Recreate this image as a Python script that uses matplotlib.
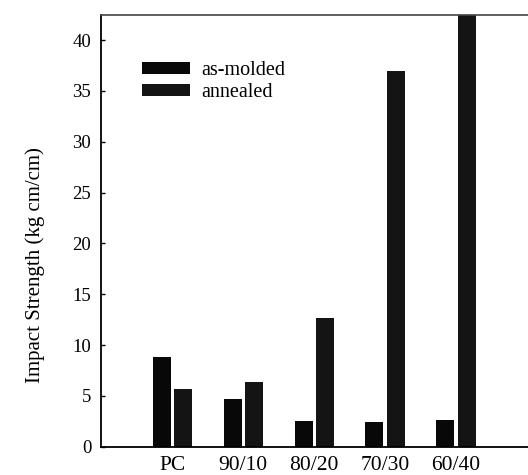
import matplotlib
matplotlib.use('Agg')
import matplotlib.pyplot as plt
import numpy as np

# data
blends = ['PC', '90/10', '80/20', '70/30', '60/40']
as_molded = [8.85, 4.7, 2.5, 2.45, 2.6]
annealed = [5.65, 6.4, 12.65, 37.0, 43.0]

plt.rcParams['font.family'] = ['Liberation Serif', 'DejaVu Serif']

fig = plt.figure(figsize=(5.28, 4.75), dpi=100)
ax = fig.add_axes([101 / 528, 28.3 / 475, 427 / 528, 432 / 475])

x = np.arange(len(blends))
w = 0.254
ax.bar(x - 0.151, as_molded, w, color='#080808', label='as-molded')
ax.bar(x + 0.151, annealed, w, color='#141414', label='annealed')

ax.set_xlim(-1.007, 5.015)
ax.set_ylim(0, 42.5)
ax.set_yticks(range(0, 41, 5))
ax.set_xticks(x)
ax.set_xticklabels(blends, fontsize=15.5)
ax.tick_params(axis='x', length=0, pad=6.5)
ax.tick_params(axis='y', direction='in', length=3, width=1, pad=7, labelsize=13.5)

ax.spines['right'].set_visible(False)
ax.spines['left'].set_linewidth(1.3)
ax.spines['top'].set_color('#444444')
ax.spines['top'].set_linewidth(1.2)
ax.spines['bottom'].set_linewidth(1.3)

ax.set_ylabel('Impact Strength (kg cm/cm)', fontsize=15)
ax.yaxis.set_label_coords(-0.13, 0.42)

ax.legend(loc='upper left', bbox_to_anchor=(142 / 528, (475 - 61) / 475),
          bbox_transform=fig.transFigure, frameon=False, fontsize=14.5,
          handlelength=2.4, handleheight=0.6, handletextpad=0.55,
          labelspacing=0.15, borderpad=0, borderaxespad=0)

fig.savefig('out.png', dpi=100)
